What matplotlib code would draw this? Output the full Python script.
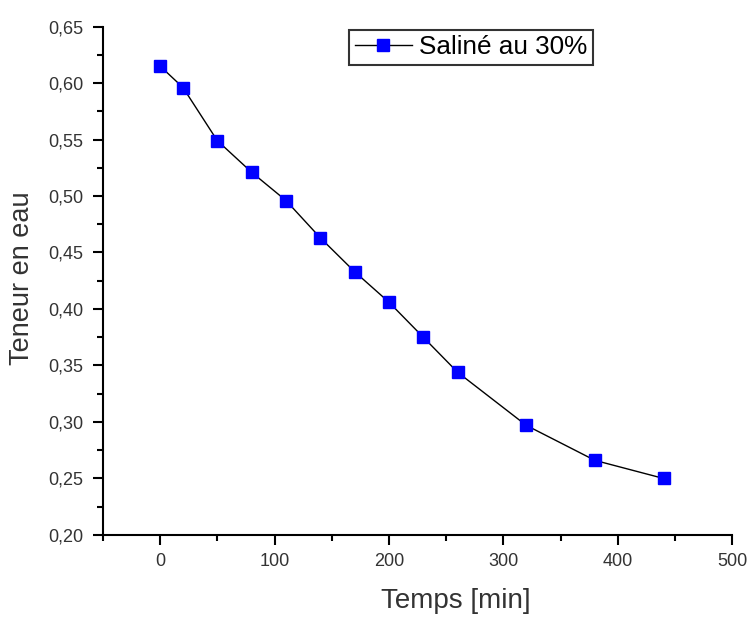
import matplotlib
matplotlib.use("Agg")
import matplotlib.pyplot as plt
from matplotlib.ticker import MultipleLocator, FuncFormatter

temps = [0, 20, 50, 80, 110, 140, 170, 200, 230, 260, 320, 380, 440]
teneur = [0.615, 0.596, 0.549, 0.521, 0.496, 0.463, 0.433, 0.406, 0.375, 0.344, 0.297, 0.266, 0.250]
serie = "Saliné au 30%"

plt.rcParams['font.family'] = ['Liberation Sans', 'DejaVu Sans']

fig = plt.figure(figsize=(7.51, 6.17), dpi=100)
ax = fig.add_axes([0.137, 0.133, 0.838, 0.824])

ax.plot(temps, teneur, color='black', lw=1.0, marker='s', markersize=9,
        markerfacecolor='#0000ff', markeredgecolor='#0000ff', label=serie)

ax.set_xlim(-50, 500)
ax.set_ylim(0.20, 0.65)
ax.xaxis.set_major_locator(MultipleLocator(100))
ax.xaxis.set_minor_locator(MultipleLocator(50))
ax.yaxis.set_major_locator(MultipleLocator(0.05))
ax.yaxis.set_minor_locator(MultipleLocator(0.025))
ax.yaxis.set_major_formatter(FuncFormatter(lambda v, p: f"{v:.2f}".replace('.', ',')))
ax.xaxis.set_major_formatter(FuncFormatter(lambda v, p: f"{v:.0f}"))

for s in ['top', 'right']:
    ax.spines[s].set_visible(False)
for s in ['left', 'bottom']:
    ax.spines[s].set_linewidth(1.5)

ax.tick_params(which='major', direction='out', length=7, width=1.5, labelsize=13,
               colors='black', labelcolor='#333333')
ax.tick_params(axis='y', which='major', pad=7)
ax.tick_params(axis='x', which='major', pad=6)
ax.tick_params(which='minor', direction='out', length=4, width=1.5)

ax.set_xlabel("Temps [min]", fontsize=20, color='#333333')
ax.set_ylabel("Teneur en eau", fontsize=19.5, color='#333333')
ax.xaxis.set_label_coords(0.56, -0.105)
ax.yaxis.set_label_coords(-0.108, 0.505)

leg = ax.legend(loc='upper left', bbox_to_anchor=(0.391, 0.994), fontsize=18.8,
                frameon=True, fancybox=False, handlelength=2.2, borderpad=0.22,
                handletextpad=0.25, borderaxespad=0)
leg.get_frame().set_edgecolor('black')
leg.get_frame().set_linewidth(1.5)

fig.savefig("out.png", dpi=100)
